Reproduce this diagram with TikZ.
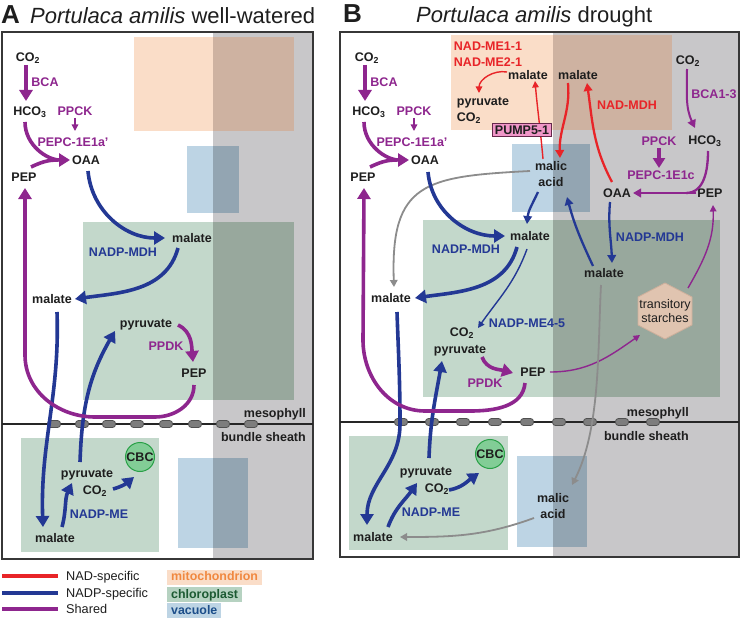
\documentclass[tikz,border=0pt]{standalone}
\usepackage{fontspec}
\setmainfont{Liberation Sans}
\usetikzlibrary{arrows.meta}
\definecolor{cpur}{RGB}{142,38,142}
\definecolor{cblue}{RGB}{35,56,148}
\definecolor{cred}{RGB}{232,36,40}
\definecolor{cgr}{RGB}{140,140,140}
\definecolor{ctext}{RGB}{30,30,30}
\definecolor{cbg}{RGB}{200,199,201}
\definecolor{cpeach}{RGB}{250,221,200}
\definecolor{cpeachG}{RGB}{206,178,161}
\definecolor{cvac}{RGB}{189,212,228}
\definecolor{cvacG}{RGB}{147,165,178}
\definecolor{cchl}{RGB}{195,216,203}
\definecolor{cchlG}{RGB}{152,168,157}
\definecolor{cpd}{RGB}{125,125,125}
\definecolor{cpdB}{RGB}{80,80,80}
\definecolor{cframe}{RGB}{55,55,55}
\definecolor{cgreen}{RGB}{130,205,150}
\definecolor{cgreenB}{RGB}{40,160,70}
\definecolor{chex}{RGB}{224,196,176}
\definecolor{chexB}{RGB}{205,175,155}
\definecolor{cpump}{RGB}{240,150,200}
\definecolor{cpumpB}{RGB}{100,40,75}
\definecolor{corange}{RGB}{240,136,64}
\definecolor{cdkgreen}{RGB}{28,90,50}
\definecolor{cdkblue}{RGB}{28,78,138}
\definecolor{clgchl}{RGB}{182,210,193}
\newcommand{\lblfont}{\bfseries\fontsize{12.5}{16}\selectfont}
\newcommand{\regfont}{\fontsize{12.7}{14}\selectfont}
\tikzset{
 lblk/.style={font=\lblfont, text=ctext, inner sep=1pt, text height=9pt, text depth=0pt},
 lpur/.style={lblk, text=cpur},
 lblu/.style={lblk, text=cblue},
 lred/.style={lblk, text=cred},
 ltwo/.style={font=\lblfont, text=ctext, inner sep=1pt, align=center},
 regtwo/.style={font=\fontsize{12.5}{14}\selectfont, text=ctext, inner sep=1pt, align=center},
 thkarr/.style={line width=3.6pt, -{Triangle[length=11pt,width=13pt]}},
 medarr/.style={line width=2.3pt, -{Triangle[length=8pt,width=8.5pt]}},
 thnarr/.style={line width=1.4pt, -{Triangle[length=6.5pt,width=6.5pt]}},
 grarr/.style={line width=1.8pt, -{Triangle[length=7pt,width=7.5pt]}},
 plasmo/.style={draw=cpdB, fill=cpd, line width=0.8pt, rounded corners=3pt},
 frm/.style={draw=cframe, line width=1.6pt},
 memb/.style={draw=black!85, line width=1.3pt},
 cbcst/.style={circle, draw=cgreenB, fill=cgreen, line width=1pt, minimum size=29pt, inner sep=0pt, font=\lblfont, text=ctext},
 pumpst/.style={draw=cpumpB, fill=cpump, line width=1pt, font=\lblfont, text=ctext, inner xsep=2.5pt, inner ysep=1.5pt, text height=9pt, text depth=0pt, minimum height=13pt},
 legtxt/.style={anchor=west, font=\regfont, text=ctext, inner sep=0pt, text height=9pt, text depth=0pt},
 legbox/.style={anchor=west, font=\bfseries\fontsize{12.4}{14}\selectfont, inner xsep=4pt, inner ysep=1.5pt, text height=9.5pt, text depth=2.5pt},
}
\begin{document}
\begin{tikzpicture}[x=1pt,y=1pt]
\useasboundingbox (0,0) rectangle (740,-618);
\fill[white] (0,0) rectangle (740,-618);

% ===== Panel A backgrounds
\fill[cbg] (213,-32) rectangle (313,-559);
\fill[cpeach] (134,-37) rectangle (213,-131);
\fill[cpeachG] (213,-37) rectangle (294,-131);
\fill[cvac] (187,-146) rectangle (213,-213);
\fill[cvacG] (213,-146) rectangle (239,-213);
\fill[cchl] (83,-222) rectangle (213,-400);
\fill[cchlG] (213,-222) rectangle (294,-400);
\fill[cchl] (21,-438) rectangle (159,-552);
\fill[cvac] (178,-458) rectangle (213,-548);
\fill[cvacG] (213,-458) rectangle (248,-548);
\draw[frm] (2,-32) rectangle (313,-559);
\draw[memb] (2,-424) -- (313,-424);
\foreach \x in {54,82,109,137,166,195,223,251}
  \draw[plasmo] (\x-6.5,-420.5) rectangle (\x+6.5,-427.5);

% ===== Panel B backgrounds
\fill[cbg] (553,-32) rectangle (739,-557);
\fill[cpeach] (451,-35) rectangle (553,-130);
\fill[cpeachG] (553,-35) rectangle (672,-130);
\fill[cvac] (512,-144) rectangle (553,-212);
\fill[cvacG] (553,-144) rectangle (590,-212);
\fill[cchl] (423,-220) rectangle (553,-397);
\fill[cchlG] (553,-220) rectangle (720,-397);
\fill[cchl] (349,-436) rectangle (508,-550);
\fill[cvac] (517,-456) rectangle (553,-547);
\fill[cvacG] (553,-456) rectangle (587,-547);
\draw[frm] (340,-32) rectangle (739,-557);
\draw[memb] (340,-422) -- (739,-422);
\foreach \x in {401,432,463,495,527,559,590,622,653}
  \draw[plasmo] (\x-6.5,-418.5) rectangle (\x+6.5,-425.5);
\filldraw[fill=chex, draw=chexB, line width=0.8pt] (665,-283) -- (692,-297) -- (692,-325) -- (665,-339) -- (638,-325) -- (638,-297) -- cycle;

% ===== Titles
\node[anchor=base west, inner sep=0pt, font=\bfseries\fontsize{26}{30}\selectfont, text=ctext] (labA) at (1,-24) {A};
\node[anchor=base west, inner sep=0pt, font=\fontsize{22}{26}\selectfont, text=ctext] (titA) at (30,-24) {\textit{Portulaca amilis} well-watered};
\node[anchor=base west, inner sep=0pt, font=\bfseries\fontsize{26}{30}\selectfont, text=ctext] (labB) at (343,-23) {B};
\node[anchor=base west, inner sep=0pt, font=\fontsize{22}{26}\selectfont, text=ctext] (titB) at (416,-23) {\textit{Portulaca amilis} drought};

% ===== Panel A nodes
\node[lblk] (co2A) at (28,-57) {CO\textsubscript{2}};
\node[lpur] (bcaA) at (45,-82) {BCA};
\node[lblk] (hco3A) at (30,-111) {HCO\textsubscript{3}};
\node[lpur] (ppckA) at (75,-111) {PPCK};
\node[lpur] (pepcA) at (73,-142) {PEPC-1E1a'};
\node[lblk] (oaaA) at (86,-160) {OAA};
\node[lblk] (pepA) at (24,-177) {PEP};
\node[lblk] (malCA) at (192,-238) {malate};
\node[lblu] (mdhA) at (123,-252) {NADP-MDH};
\node[lblk] (malLA) at (52,-299) {malate};
\node[lblk] (pyrTA) at (146,-323) {pyruvate};
\node[lpur] (ppdkA) at (166,-346) {PPDK};
\node[lblk] (pepCA) at (194,-373) {PEP};
\node[lblk,anchor=east] (mesoA) at (307,-413) {mesophyll};
\node[lblk,anchor=east] (bsA) at (307,-437) {bundle sheath};
\node[cbcst] (cbcA) at (140,-457) {CBC};
\node[lblk] (pyrBA) at (87,-473) {pyruvate};
\node[lblk] (co2BA) at (95,-490) {CO\textsubscript{2}};
\node[lblu] (meA) at (99,-514) {NADP-ME};
\node[lblk] (malBA) at (55,-538) {malate};

% ===== Panel A connectors
\draw[cpur,thkarr] ([shift={(-2,-8)}]co2A.center) -- ([shift={(-4,10)}]hco3A.center);
\draw[cpur,thkarr] ([shift={(-5,-11)}]hco3A.center) to[out=-90,in=180] ([shift={(-16,0)}]oaaA.center);
\draw[cpur,line width=3.6pt] ([shift={(7,10)}]pepA.center) to[out=25,in=180] ([shift={(-28,0)}]oaaA.center);
\draw[cpur,thnarr] ([shift={(0,-7)}]ppckA.center) -- ([shift={(2,11)}]pepcA.center);
\draw[cblue,thkarr] ([shift={(2,-11)}]oaaA.center) to[out=-85,in=180] ([shift={(-27,0)}]malCA.center);
\draw[cblue,thkarr] ([shift={(-14,-10)}]malCA.center) to[out=-105,in=8] ([shift={(23,0)}]malLA.center);
\draw[cblue,thkarr] ([shift={(5,-13)}]malLA.center) to[out=-88,in=92] ([shift={(-12,11)}]malBA.center);
\draw[cblue,thkarr] ([shift={(-7,11)}]pyrBA.center) to[out=88,in=-120] ([shift={(-31,-8)}]pyrTA.center);
\draw[cblue,thkarr] ([shift={(7,11)}]malBA.center) to[out=75,in=-115] ([shift={(-15,-10)}]pyrBA.center);
\draw[cblue,thkarr] ([shift={(18,1)}]co2BA.center) to[out=15,in=-140] ([shift={(-6,-20)}]cbcA.center);
\draw[cpur,thkarr] ([shift={(32,-2)}]pyrTA.center) to[out=-25,in=95] ([shift={(-1,11)}]pepCA.center);
\draw[cpur,thkarr] ([shift={(0,-12)}]pepCA.center) to[out=-90,in=0] (155,-417) -- (95,-417) to[out=180,in=-90] (25,-355) -- ([shift={(1,-11)}]pepA.center);

% ===== Panel B nodes
\node[lblk] (co2B) at (367,-57) {CO\textsubscript{2}};
\node[lpur] (bcaB) at (384,-82) {BCA};
\node[lblk] (hco3B) at (369,-111) {HCO\textsubscript{3}};
\node[lpur] (ppckB) at (414,-111) {PPCK};
\node[lpur] (pepcB) at (412,-142) {PEPC-1E1a'};
\node[lblk] (oaaB) at (425,-160) {OAA};
\node[lblk] (pepB) at (363,-177) {PEP};
\node[ltwo,align=left,text=cred] (nme) at (488,-54) {NAD-ME1-1\\NAD-ME2-1};
\node[lblk] (malM1) at (528,-75) {malate};
\node[lblk] (malM2) at (578,-75) {malate};
\node[ltwo,align=left] (pyrM) at (483,-110) {pyruvate\\CO\textsubscript{2}};
\node[lred] (nmdh) at (627,-105) {NAD-MDH};
\node[ltwo] (maTB) at (551,-174) {malic\\acid};
\node[lblk] (malCB) at (530,-236) {malate};
\node[lblu] (mdhB) at (466,-249) {NADP-MDH};
\node[lblk] (malLB) at (391,-298) {malate};
\node[lblk] (co2TB) at (462,-332) {CO\textsubscript{2}};
\node[lblu] (me45) at (527,-323) {NADP-ME4-5};
\node[lblk] (pyrTB) at (460,-349) {pyruvate};
\node[lpur] (ppdkB) at (485,-383) {PPDK};
\node[lblk] (pepCB) at (533,-372) {PEP};
\node[regtwo] (starch) at (665,-311) {transitory\\starches};
\node[lblk] (co2RB) at (688,-60) {CO\textsubscript{2}};
\node[lpur] (bcaRB) at (714,-94) {BCA1-3};
\node[lblk] (hco3RB) at (705,-140) {HCO\textsubscript{3}};
\node[lpur] (ppckRB) at (659,-141) {PPCK};
\node[lpur] (pepcRB) at (661,-175) {PEPC-1E1c};
\node[lblk] (oaaRB) at (617,-193) {OAA};
\node[lblk] (pepRB) at (710,-193) {PEP};
\node[lblu] (mdhRB) at (650,-237) {NADP-MDH};
\node[lblk] (malRB) at (604,-273) {malate};
\node[lblk,anchor=east] (mesoB) at (690,-412) {mesophyll};
\node[lblk,anchor=east] (bsB) at (690,-436) {bundle sheath};
\node[cbcst] (cbcB) at (490,-454) {CBC};
\node[lblk] (pyrBB) at (426,-471) {pyruvate};
\node[lblk] (co2BB) at (437,-488) {CO\textsubscript{2}};
\node[lblu] (meB) at (431,-512) {NADP-ME};
\node[lblk] (malBB) at (373,-537) {malate};
\node[ltwo] (maBB) at (553,-506) {malic\\acid};

% ===== Panel B connectors
\draw[cpur,thkarr] ([shift={(-2,-8)}]co2B.center) -- ([shift={(-4,10)}]hco3B.center);
\draw[cpur,thkarr] ([shift={(-5,-11)}]hco3B.center) to[out=-90,in=180] ([shift={(-16,0)}]oaaB.center);
\draw[cpur,line width=3.6pt] ([shift={(7,10)}]pepB.center) to[out=25,in=180] ([shift={(-28,0)}]oaaB.center);
\draw[cpur,thnarr] ([shift={(0,-7)}]ppckB.center) -- ([shift={(2,11)}]pepcB.center);
\draw[cgr,grarr] ([shift={(-21,3)}]maTB.center) to[out=183,in=92,looseness=1.5] ([shift={(3,11)}]malLB.center);
\draw[cblue,thkarr] ([shift={(3,-12)}]oaaB.center) to[out=-85,in=180] ([shift={(-25,0)}]malCB.center);
\draw[cblue,thkarr] ([shift={(-13,-11)}]malCB.center) to[out=-105,in=8] ([shift={(24,0)}]malLB.center);
\draw[cblue,thnarr] ([shift={(-3,-13)}]malCB.center) to[out=-110,in=55] ([shift={(16,4)}]co2TB.center);
\draw[cblue,medarr] ([shift={(-13,-18)}]maTB.center) to[out=-115,in=85] ([shift={(-3,12)}]malCB.center);
\draw[cblue,medarr] ([shift={(-11,7)}]malRB.center) to[out=115,in=-75] ([shift={(16,-23)}]maTB.center);
\draw[cblue,medarr] ([shift={(-7,-9)}]oaaRB.center) to[out=-95,in=92] ([shift={(8,10)}]malRB.center);
\draw[cblue,thkarr] ([shift={(6,-14)}]malLB.center) to[out=-88,in=90] (400,-424) to[out=-90,in=90] ([shift={(-6,12)}]malBB.center);
\draw[cblue,thkarr] ([shift={(3,13)}]pyrBB.center) to[out=88,in=-100] ([shift={(-18,-12)}]pyrTB.center);
\draw[cblue,thkarr] ([shift={(15,10)}]malBB.center) to[out=70,in=-125] ([shift={(-9,-12)}]pyrBB.center);
\draw[cblue,thkarr] ([shift={(12,-2)}]co2BB.center) to[out=10,in=-145] ([shift={(-11,-19)}]cbcB.center);
\draw[cpur,thkarr] ([shift={(22,-8)}]pyrTB.center) to[out=-70,in=165] ([shift={(-20,-1)}]pepCB.center);
\draw[cpur,thkarr] ([shift={(-8,-11)}]pepCB.center) to[out=-95,in=0] (470,-411) -- (425,-411) to[out=180,in=-90] (363,-340) -- ([shift={(1,-11)}]pepB.center);
\draw[cpur,thnarr] ([shift={(17,0)}]pepCB.center) to[out=0,in=-145] ([shift={(-25,-24)}]starch.center);
\draw[cpur,thnarr] ([shift={(23,23)}]starch.center) to[out=60,in=-88] ([shift={(3,-12)}]pepRB.center);
\draw[cgr,grarr] ([shift={(-3,-12)}]malRB.center) to[out=-93,in=63,looseness=0.8] ([shift={(19,21)}]maBB.center);
\draw[cgr,grarr] ([shift={(-19,-12)}]maBB.center) to[out=200,in=0] ([shift={(27,0)}]malBB.center);
\draw[cred,medarr] ([shift={(-10,-8)}]malM2.center) to[out=-85,in=92] ([shift={(9,16)}]maTB.center);
\draw[cred,thnarr] ([shift={(-8,15)}]maTB.center) to[out=95,in=-85] ([shift={(7,-6)}]malM1.center);
\draw[cred,medarr] ([shift={(-5,11)}]oaaRB.center) to[out=118,in=-82] ([shift={(9,-8)}]malM2.center);
\draw[cred,thnarr] ([shift={(-21,3)}]malM1.center) to[out=170,in=90] ([shift={(-4,17)}]pyrM.center);
\draw[cpur,medarr,line width=2pt] ([shift={(-1,-9)}]co2RB.center) to[out=-90,in=115] ([shift={(-10,12)}]hco3RB.center);
\draw[cpur,line width=4pt,-{Triangle[length=10pt,width=12pt]}] ([shift={(0,-7)}]ppckRB.center) -- ([shift={(-2,7)}]pepcRB.center);
\draw[cpur,medarr] ([shift={(-14,0)}]pepRB.center) -- ([shift={(16,0)}]oaaRB.center);
\draw[cpur,line width=2.3pt] ([shift={(3,-11)}]hco3RB.center) to[out=-90,in=0] ([shift={(-24,0)}]pepRB.center);
% transporter box drawn over the red transport arrow
\node[pumpst] (pump) at (522,-130) {PUMP5-1};

% ===== Legend
\node[legtxt] (lgNAD) at (66,-576) {NAD-specific};
\node[legtxt] (lgNADP) at (66,-593) {NADP-specific};
\node[legtxt] (lgSh) at (66,-609) {Shared};
\coordinate (lgR) at (2,-576);
\coordinate (lgB) at (2,-593);
\coordinate (lgP) at (2,-609);
\draw[cred,line width=4pt] (lgR) -- ([xshift=-8pt]lgNAD.west);
\draw[cblue,line width=4pt] (lgB) -- ([xshift=-8pt]lgNADP.west |- lgB);
\draw[cpur,line width=4pt] (lgP) -- ([xshift=-8pt]lgSh.west);
\node[legbox, fill=cpeach, text=corange] (lgMito) at (167,-577) {mitochondrion};
\node[legbox, fill=clgchl, text=cdkgreen] (lgChl) at (167,-594.5) {chloroplast};
\node[legbox, fill=cvac, text=cdkblue] (lgVac) at (167,-610.5) {vacuole};
\end{tikzpicture}
\end{document}
